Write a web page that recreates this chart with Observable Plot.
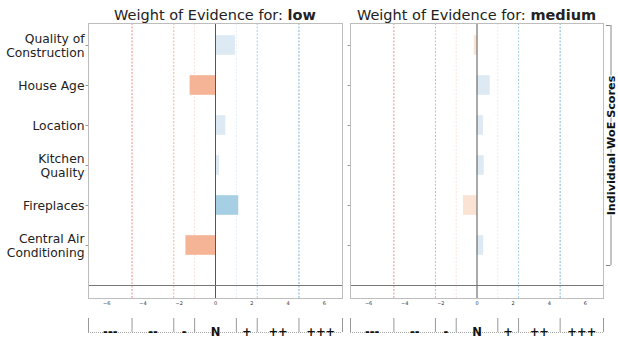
<!DOCTYPE html>
<html><head><meta charset="utf-8">
<script src="https://cdn.jsdelivr.net/npm/d3@7"></script>
<script src="https://cdn.jsdelivr.net/npm/@observablehq/plot@0.6"></script>
<style>
html,body{margin:0;padding:0;background:#fff;}
#chart{position:relative;width:618px;height:342px;overflow:hidden;font-family:"DejaVu Sans",sans-serif;background:#fff;}
#chart > *{position:absolute;}
.title{font-size:14.5px;line-height:1;color:#222;white-space:nowrap;transform:translateX(-50%);}
</style></head><body><div id="chart"></div>
<script>
// ---- data ----
const features = ["Quality of\nConstruction", "House Age", "Location", "Kitchen\nQuality", "Fireplaces", "Central Air\nConditioning"];
const classes = ["low", "medium"];
const lowValues = [1.1, -1.4, 0.57, 0.22, 1.28, -1.63];
const mediumValues = [-0.15, 0.73, 0.35, 0.4, -0.75, 0.37];
const xTicks = [-6, -4, -2, 0, 2, 4, 6];
const thresholds = [-4.6, -2.3, -1.15, 1.15, 2.3, 4.6];
const scoreBounds = [-7, -4.6, -2.3, -1.15, 1.15, 2.3, 4.6, 7];
const scoreLabels = ["---", "--", "-", "N", "+", "++", "+++"];
const sideLabel = "Individual WoE Scores";
const titlePrefix = "Weight of Evidence for: ";

// ---- styling helpers ----
const FONT = "DejaVu Sans";
function barColor(v) {
  const a = Math.abs(v);
  if (v >= 0) return a < 1.15 ? "#dde9f3" : "#a6cfe4";
  return a < 1.15 ? "#fbe3d4" : "#f5b496";
}
function thrColor(t) {
  const a = Math.abs(t);
  if (t < 0) return a > 4 ? "#ec8f8a" : a > 2 ? "#f3b1a6" : "#fbe1dc";
  return a > 4 ? "#7fb3dc" : a > 2 ? "#a9cde9" : "#e3eef7";
}

const chart = document.getElementById("chart");
const PANEL_H = 310;
const layouts = [
  {left: 0, width: 345, ml: 88, mr: 3, labels: true},
  {left: 345, width: 261, ml: 5, mr: 3, labels: false}
];
const seriesValues = [lowValues, mediumValues];

classes.forEach((cls, k) => {
  const L = layouts[k];
  const rows = features.map((f, i) => ({feature: f, i, value: seriesValues[k][i]}));
  const p = Plot.plot({
    width: L.width, height: PANEL_H,
    marginTop: 23, marginBottom: 12, marginLeft: L.ml, marginRight: L.mr,
    style: {fontFamily: FONT, fontSize: "12px", color: "#222", background: "#fff", overflow: "visible"},
    x: {domain: [-7, 7], label: null},
    y: {domain: [-0.55, 6.325], reverse: true, label: null},
    color: {type: "identity"},
    marks: [
      Plot.ruleX(thresholds, {x: d => d, stroke: d => thrColor(d), strokeWidth: 1, strokeDasharray: "2,1.5"}),
      Plot.rectX(rows, {x1: 0, x2: "value", y1: d => d.i - 0.245, y2: d => d.i + 0.245, fill: d => barColor(d.value)}),
      Plot.ruleX([0], {stroke: "#555", strokeWidth: 1}),
      Plot.ruleY([features.length], {stroke: "#777", strokeWidth: 1}),
      Plot.frame({stroke: "#bdbdbd"}),
      Plot.axisX(xTicks, {tickSize: 0, tickPadding: 3, fontSize: 5, fill: "#333"}),
      Plot.axisY(d3.range(features.length), {
        tickSize: 2.5, tickPadding: 1.5, stroke: "#999",
        tickFormat: L.labels ? (i => features[i]) : (() => ""),
        fontSize: 12.3, lineHeight: 1.1, fill: "#222"
      })
    ]
  });
  p.style.left = L.left + "px";
  p.style.top = "0px";
  chart.appendChild(p);

  // bracket score axis
  const segs = scoreLabels.map((s, j) => ({label: s, a: scoreBounds[j], b: scoreBounds[j + 1]}));
  const q = Plot.plot({
    width: L.width, height: 32,
    marginTop: 8, marginBottom: 10, marginLeft: L.ml, marginRight: L.mr,
    style: {fontFamily: FONT, background: "transparent", overflow: "visible"},
    x: {domain: [-7, 7], axis: null},
    y: {domain: [0, 1], axis: null},
    marks: [
      Plot.ruleY([0], {x1: -7, x2: 7, stroke: "#aaa", strokeDasharray: "1,1"}),
      Plot.ruleX(scoreBounds, {x: d => d, y1: 0, y2: 1, stroke: "#999"}),
      Plot.text(segs, {x: d => (d.a + d.b) / 2, y: 0, text: "label", fontWeight: "bold", fontSize: 11.5, fill: "#111"})
    ]
  });
  q.style.left = L.left + "px";
  q.style.top = PANEL_H + "px";
  chart.appendChild(q);

  // title
  const t = document.createElement("div");
  t.className = "title";
  const cx = L.left + L.ml + (L.width - L.ml - L.mr) / 2;
  t.style.left = cx + "px";
  t.style.top = "7.7px";
  t.append(titlePrefix);
  const b = document.createElement("b");
  b.textContent = cls;
  t.append(b);
  chart.appendChild(t);
});

// side bracket annotation
const side = Plot.plot({
  width: 618, height: 342, margin: 0,
  style: {fontFamily: FONT, background: "transparent", overflow: "hidden"},
  x: {type: "identity", axis: null},
  y: {type: "identity", axis: null},
  marks: [
    Plot.ruleX([610.5], {y1: 25, y2: 265, stroke: "#888"}),
    Plot.ruleY([25, 265], {x1: 606, x2: 610.5, stroke: "#888"}),
    Plot.text([sideLabel], {x: 611.3, y: 145, text: d => d, rotate: -90, fontWeight: "bold", fontSize: 11.2, fill: "#111", stroke: "#fff", strokeWidth: 2, paintOrder: "stroke"})
  ]
});
side.style.left = "0px";
side.style.top = "0px";
side.style.pointerEvents = "none";
chart.appendChild(side);
</script>
</body></html>
